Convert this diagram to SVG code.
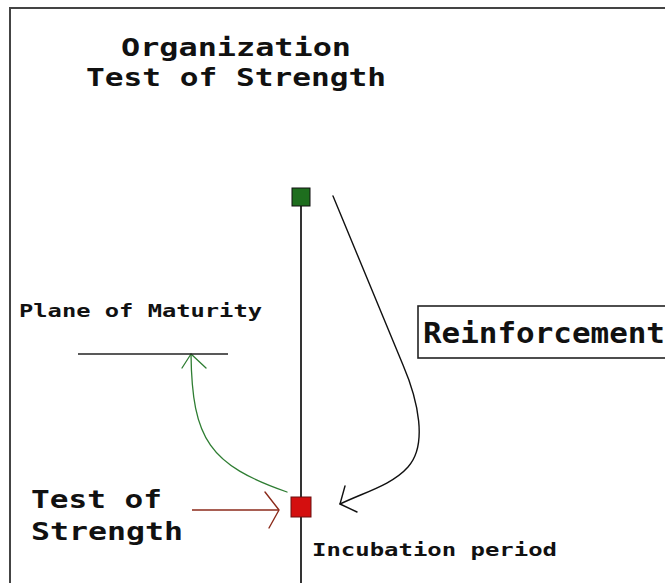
<svg xmlns="http://www.w3.org/2000/svg" width="665" height="583" viewBox="0 0 665 583">
  <style>
    .t { font-family: "DejaVu Sans Mono", "Liberation Mono", monospace; font-weight: bold; fill: #111; }
    .big { font-size: 25px; }
    .mid { font-size: 24px; }
    .small { font-size: 18px; }
    .reinf { font-size: 29px; }
    .conn { fill: none; stroke-linecap: round; stroke-linejoin: round; }
  </style>
  <rect x="0" y="0" width="665" height="583" fill="#ffffff"/>
  <rect id="frame" x="10" y="8" width="700" height="620" fill="none" stroke="#444" stroke-width="2"/>

  <g id="title">
    <text class="t big" x="236" y="56" text-anchor="middle" textLength="230" lengthAdjust="spacingAndGlyphs">Organization</text>
    <text class="t big" x="236" y="86" text-anchor="middle" textLength="300" lengthAdjust="spacingAndGlyphs">Test of Strength</text>
  </g>

  <g id="connectors">
    <line x1="301" y1="200" x2="301" y2="583" stroke="#000" stroke-width="1.6"/>
    <!-- reinforcement arrow -->
    <path class="conn" d="M333,196 L403,365 C418,400 428,445 408,467 C392,485 365,492 340,504" stroke="#111" stroke-width="1.4"/>
    <path class="conn" d="M345,486 L340,504 L357,512" stroke="#111" stroke-width="1.4"/>
    <!-- maturity arrow -->
    <path class="conn" d="M287,492 C210,465 192,440 191,354" stroke="#2e7d32" stroke-width="1.3"/>
    <path class="conn" d="M182,368 L191,354 L206,368" stroke="#2e7d32" stroke-width="1.3"/>
    <!-- test of strength arrow -->
    <line x1="192" y1="510" x2="279" y2="510" stroke="#8b2a1a" stroke-width="1.4"/>
    <path class="conn" d="M265,492 L279,510 L269,528" stroke="#8b2a1a" stroke-width="1.4"/>
  </g>

  <g id="organization">
    <rect x="292" y="188" width="18" height="18" fill="#1e6e1e" stroke="#111" stroke-width="1"/>
  </g>

  <g id="incubation">
    <rect x="291" y="497" width="20" height="20" fill="#d40f0f" stroke="#6a1010" stroke-width="1"/>
    <text class="t small" x="312" y="556" textLength="245" lengthAdjust="spacingAndGlyphs">Incubation period</text>
  </g>

  <g id="plane-of-maturity">
    <text class="t small" x="19" y="317" textLength="243" lengthAdjust="spacingAndGlyphs">Plane of Maturity</text>
    <line x1="78" y1="354" x2="228" y2="354" stroke="#222" stroke-width="1.6"/>
  </g>

  <g id="reinforcement">
    <rect x="418" y="306" width="260" height="52" fill="#fff" stroke="#222" stroke-width="1.6"/>
    <text class="t reinf" x="423" y="343" textLength="242" lengthAdjust="spacingAndGlyphs">Reinforcement</text>
  </g>

  <g id="test-of-strength">
    <text class="t mid" x="31" y="508" textLength="131" lengthAdjust="spacingAndGlyphs">Test of</text>
    <text class="t mid" x="31" y="540" textLength="152" lengthAdjust="spacingAndGlyphs">Strength</text>
  </g>
</svg>
